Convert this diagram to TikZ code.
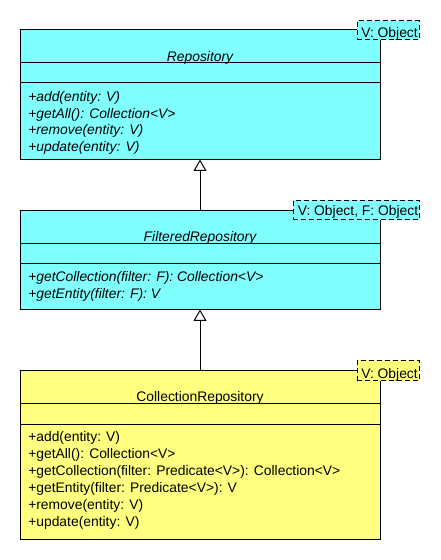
\documentclass[tikz,border=0pt]{standalone}
\usepackage{fontspec}
\setmainfont{Liberation Sans}
\usetikzlibrary{arrows.meta,fit}

\definecolor{abstractcyan}{RGB}{128,255,255}
\definecolor{concreteyellow}{RGB}{255,255,128}
\newcommand{\umlfont}{\fontsize{10.4pt}{12.7pt}\selectfont}

\tikzset{
  classbox/.style={draw, line width=0.75pt, inner sep=0pt},
  tparam/.style={draw, dash pattern=on 3.75pt off 2.25pt, line width=0.75pt, inner sep=0pt},
  umltext/.style={inner sep=0pt, anchor=base west, font=\umlfont},
  abstracttext/.style={inner sep=0pt, anchor=base west, font=\umlfont\itshape},
  classname/.style={inner sep=0pt, anchor=base, font=\umlfont},
  abstractname/.style={inner sep=0pt, anchor=base, font=\umlfont\itshape},
  compartment/.style={line width=0.75pt},
  inherit/.style={line width=0.75pt, -{Triangle[open, length=8.6pt, width=9.75pt]}},
}

\begin{document}
\begin{tikzpicture}[x=0.75pt, y=-0.75pt]
    \useasboundingbox (0,0) rectangle (440,560);

    % Repository
    \node[classbox, fill=abstractcyan, fit={(20,30) (380,159)}] (repo) {};
    \draw[compartment] (20,63) -- (380,63);
    \draw[compartment] (20,83) -- (380,83);
    \node[abstractname] (repoName) at (200,61) {Repository};
    \node[abstracttext] (repoOp1) at (28,101.5) {+add(entity: V)};
    \node[abstracttext] (repoOp2) at (28,118.2) {+getAll(): Collection<V>};
    \node[abstracttext] (repoOp3) at (28,134.9) {+remove(entity: V)};
    \node[abstracttext] (repoOp4) at (28,151.6) {+update(entity: V)};
    \node[tparam, fill=abstractcyan, fit={(357,21) (419,40)}] (repoT) {};
    \node[umltext] (repoTText) at (361,38) {V: Object};

    % FilteredRepository
    \node[classbox, fill=abstractcyan, fit={(20,210) (380,309)}] (filt) {};
    \draw[compartment] (20,243) -- (380,243);
    \draw[compartment] (20,263) -- (380,263);
    \node[abstractname] (filtName) at (200,241.5) {FilteredRepository};
    \node[abstracttext] (filtOp1) at (28,281.5) {+getCollection(filter: F): Collection<V>};
    \node[abstracttext] (filtOp2) at (28,298.2) {+getEntity(filter: F): V};
    \node[tparam, fill=abstractcyan, fit={(293,200) (419,219.5)}] (filtT) {};
    \node[umltext] (filtTText) at (297.5,215) {V: Object, F: Object};

    % CollectionRepository
    \node[classbox, fill=concreteyellow, fit={(20,370) (380,539)}] (coll) {};
    \draw[compartment] (20,403) -- (380,403);
    \draw[compartment] (20,424) -- (380,424);
    \node[classname] (collName) at (200,401.5) {CollectionRepository};
    \node[umltext] (collOp1) at (28,441) {+add(entity: V)};
    \node[umltext] (collOp2) at (28,458.1) {+getAll(): Collection<V>};
    \node[umltext] (collOp3) at (28,475.2) {+getCollection(filter: Predicate<V>): Collection<V>};
    \node[umltext] (collOp4) at (28,492.3) {+getEntity(filter: Predicate<V>): V};
    \node[umltext] (collOp5) at (28,509.4) {+remove(entity: V)};
    \node[umltext] (collOp6) at (28,526.5) {+update(entity: V)};
    \node[tparam, fill=concreteyellow, fit={(357,360) (419,380.5)}] (collT) {};
    \node[umltext] (collTText) at (361,378) {V: Object};

    % generalisations
    \draw[inherit] (filt.north) -- (repo.south);
    \draw[inherit] (coll.north) -- (filt.south);
\end{tikzpicture}
\end{document}
